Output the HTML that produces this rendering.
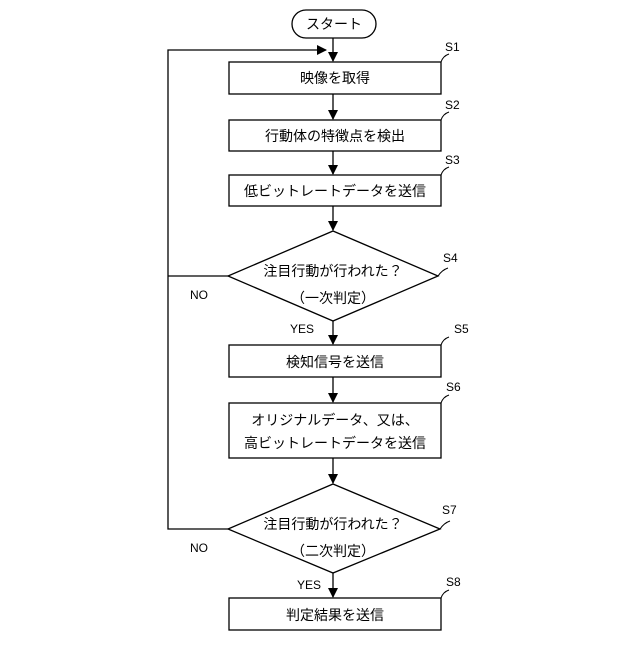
<!DOCTYPE html>
<html><head><meta charset="utf-8"><style>body{margin:0;background:#fff}</style></head><body>
<svg width="640" height="640" viewBox="0 0 640 640" xmlns="http://www.w3.org/2000/svg" font-family="Liberation Sans, Noto Sans CJK JP, sans-serif" font-size="14" fill="#000">
<defs><marker id="a" markerWidth="10" markerHeight="10" refX="9" refY="5" orient="auto" markerUnits="userSpaceOnUse"><path d="M0,0 L10,5 L0,10 z" fill="#000"/></marker></defs>
<g stroke="#000" stroke-width="1.3" fill="none">
<rect x="292" y="10" width="84" height="28" rx="14"/>
<rect x="229" y="62" width="212" height="32" fill="#fff"/>
<rect x="229" y="120" width="212" height="31" fill="#fff"/>
<rect x="229" y="175" width="212" height="31" fill="#fff"/>
<polygon points="333,231 438,276 333,321 228,276" fill="#fff"/>
<rect x="229" y="345" width="212" height="32" fill="#fff"/>
<rect x="229" y="403" width="212" height="55" fill="#fff"/>
<polygon points="333,484 440,529 333,573 228,529" fill="#fff"/>
<rect x="229" y="598" width="212" height="32" fill="#fff"/>
<line x1="333" y1="38" x2="333" y2="61" marker-end="url(#a)"/>
<line x1="333" y1="94" x2="333" y2="119" marker-end="url(#a)"/>
<line x1="333" y1="151" x2="333" y2="174" marker-end="url(#a)"/>
<line x1="333" y1="206" x2="333" y2="230" marker-end="url(#a)"/>
<line x1="333" y1="321" x2="333" y2="344" marker-end="url(#a)"/>
<line x1="333" y1="377" x2="333" y2="402" marker-end="url(#a)"/>
<line x1="333" y1="458" x2="333" y2="483" marker-end="url(#a)"/>
<line x1="333" y1="573" x2="333" y2="597" marker-end="url(#a)"/>
<polyline points="228,529 168,529 168,50 326,50" marker-end="url(#a)"/>
<line x1="228" y1="276" x2="168" y2="276"/>
<path d="M441,62 q2,-6 8,-8 M441,120 q2,-6 8,-8 M441,175 q2,-6 8,-8 M438,276 q4,-6 10,-8 M441,345 q2,-6 8,-8 M441,403 q2,-6 8,-8 M440,529 q4,-6 10,-8 M441,598 q2,-6 8,-8" stroke-width="1"/>
</g>
<g text-anchor="middle">
<text x="334" y="29">スタート</text>
<text x="335" y="83">映像を取得</text>
<text x="335" y="141">行動体の特徴点を検出</text>
<text x="335" y="196">低ビットレートデータを送信</text>
<text x="333" y="276">注目行動が行われた？</text>
<text x="333" y="303">（一次判定）</text>
<text x="335" y="367">検知信号を送信</text>
<text x="335" y="425">オリジナルデータ、又は、</text>
<text x="335" y="448">高ビットレートデータを送信</text>
<text x="333" y="529">注目行動が行われた？</text>
<text x="333" y="556">（二次判定）</text>
<text x="335" y="620">判定結果を送信</text>
</g>
<g font-size="12">
<text x="445" y="51">S1</text><text x="445" y="109">S2</text><text x="445" y="164">S3</text>
<text x="443" y="262">S4</text><text x="454" y="333">S5</text><text x="446" y="391">S6</text>
<text x="442" y="514">S7</text><text x="446" y="586">S8</text>
<text x="190" y="299">NO</text><text x="190" y="552">NO</text>
<text x="290" y="333">YES</text><text x="297" y="589">YES</text>
</g>
</svg>
</body></html>
